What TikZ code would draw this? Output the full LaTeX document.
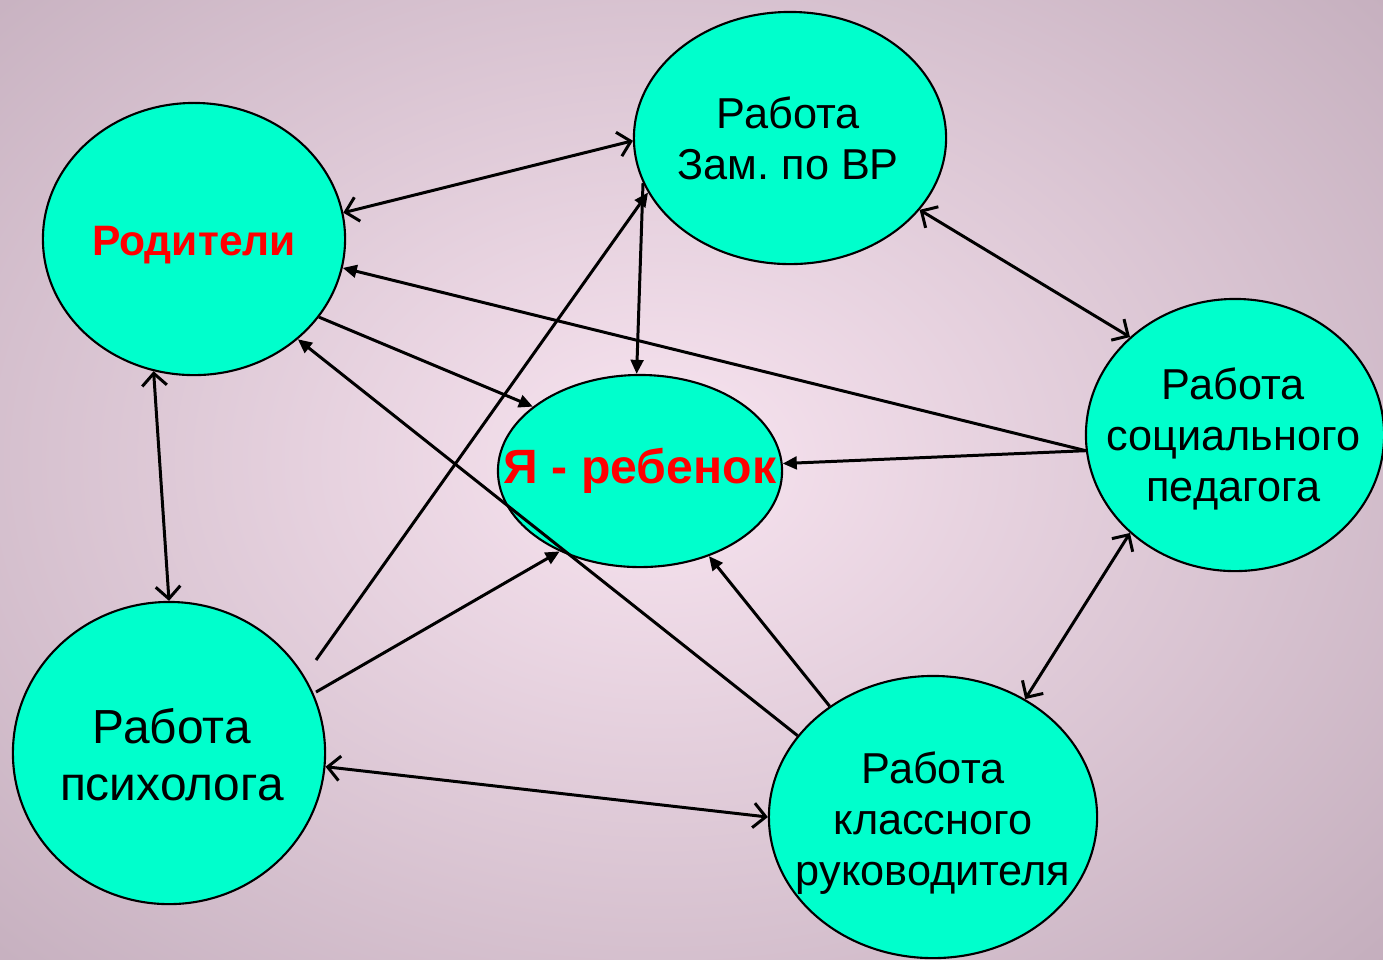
\documentclass[tikz,border=0pt]{standalone}
\usepackage{fontspec}
\setmainfont{Liberation Sans}
\usetikzlibrary{shapes.geometric,arrows.meta}
\frenchspacing
\definecolor{bgin}{RGB}{248,228,240}
\definecolor{bgout}{RGB}{196,174,189}
\definecolor{aqua}{RGB}{0,255,204}
\tikzstyle{bubble}=[ellipse,draw,line width=0.6pt,fill=aqua,inner sep=0pt]
\tikzstyle{txt}=[align=center,text=black,inner sep=0pt,font=\fontsize{12.3}{14.5}\selectfont]
\tikzstyle{hot}=[align=center,text=red,inner sep=0pt,font=\bfseries\fontsize{13.7}{15}\selectfont]
\tikzstyle{link}=[-{Triangle[length=4pt,width=3.6pt]},line width=0.85pt]
\tikzstyle{linkB}=[{Straight Barb[length=3.5pt,width=7pt]}-{Straight Barb[length=3.5pt,width=7pt]},line width=0.85pt]

\begin{document}
\begin{tikzpicture}[x=0.01cm,y=-0.01cm]
  \useasboundingbox (0,0) rectangle (1383,959);
  \begin{scope}
    \clip (0,0) rectangle (1383,959);
    \shade[inner color=bgin,outer color=bgout] (-330,-280) rectangle (1650,1200);
  \end{scope}

  \node[bubble,minimum width=3.02cm,minimum height=2.72cm,
    label={[hot,font=\bfseries\fontsize{12.1}{14}\selectfont,yshift=-1.6pt]center:Родители}] (par) at (194,239) {};
  \node[bubble,minimum width=3.12cm,minimum height=2.52cm,
    label={[txt,xshift=-0.5pt]center:Работа\\Зам. по ВР}] (zam) at (790,138) {};
  \node[bubble,minimum width=2.84cm,minimum height=1.92cm,
    label={[hot]center:Я - ребенок}] (me) at (640,471) {};
  \node[bubble,minimum width=2.98cm,minimum height=2.72cm,
    label={[txt,yshift=-1.1pt,xshift=-0.5pt]center:Работа\\социального\\педагога}] (soc) at (1235,435) {};
  \node[bubble,minimum width=3.12cm,minimum height=3.02cm,
    label={[txt,font=\fontsize{13.6}{16.2}\selectfont,yshift=-0.4pt,xshift=0.8pt]center:Работа\\психолога}] (psy) at (169,753) {};
  \node[bubble,minimum width=3.28cm,minimum height=2.82cm,
    label={[txt,yshift=-1.7pt]center:Работа\\классного\\руководителя}] (kls) at (933,817) {};

  % the two lines out of psy start just off its rim
  \path (psy.center) ++(147,-93) coordinate (psyA);
  \path (psy.center) ++(147,-61) coordinate (psyB);

  \draw[linkB] (par.10)--(zam.181); \draw[linkB] (zam.-29)--(soc.137);
  \draw[linkB] (soc.223)--(kls.52); \draw[linkB] (psy.-5)--(kls.180);
  \draw[linkB] (par.253)--(psy.90);
  \draw[link] (zam.197)--(me.92); \draw[link] (par.-32)--(me.149);
  \draw[link] (soc.186)--(par.-11); \draw[link] (soc.186)--(me.3);
  \draw[link] (kls.133)--(me.-51); \draw[link] (kls.149)--(par.-44);
  \draw[link] (psyA)--(zam.201); \draw[link] (psyB)--(me.-135);
\end{tikzpicture}
\end{document}
